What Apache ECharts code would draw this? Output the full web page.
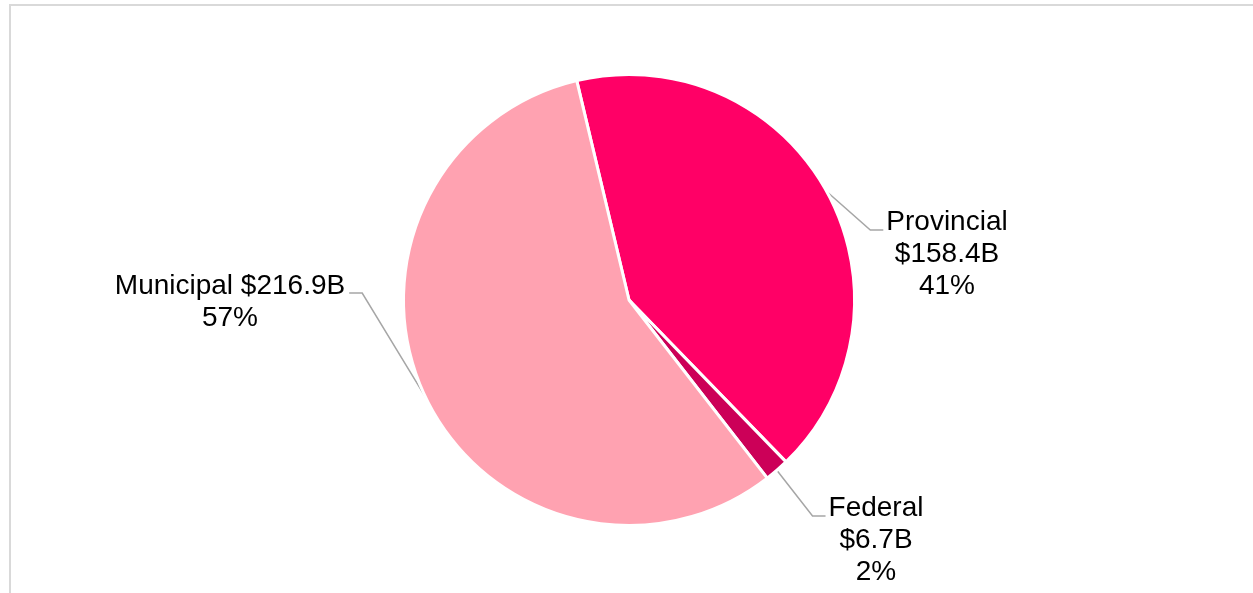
<!DOCTYPE html>
<html>
<head>
<meta charset="utf-8">
<script src="https://cdn.jsdelivr.net/npm/echarts@6/dist/echarts.min.js"></script>
<style>
  html, body { margin: 0; padding: 0; background: #ffffff; }
  #chart { width: 1253px; height: 593px; }
</style>
</head>
<body>
<div id="chart"></div>
<script>
// Spending by order of government (billions of dollars)
const categories = ['Provincial', 'Federal', 'Municipal'];
const values = [158.4, 6.7, 216.9];
const sliceColors = ['#FF0066', '#CC0058', '#FFA2B1'];

// Where each label block sits (centre x, centre y) and which side its leader joins
const labelSpots = [
  { x: 947, y: 254, side: 'left', lineY: 230, tail: 13 },
  { x: 876, y: 540, side: 'left', lineY: 516, tail: 13 },
  { x: 230, y: 302, side: 'right', lineY: 293, tail: 13 }
];

const total = values.reduce((a, b) => a + b, 0);

function labelText(i) {
  const pct = Math.round(values[i] / total * 100);
  const money = '$' + values[i].toFixed(1) + 'B';
  if (categories[i] === 'Municipal') {
    return categories[i] + ' ' + money + '\n' + pct + '%';
  }
  return categories[i] + '\n' + money + '\n' + pct + '%';
}

const chart = echarts.init(document.getElementById('chart'), null, { renderer: 'canvas' });

chart.setOption({
  animation: false,
  backgroundColor: '#ffffff',
  graphic: [{
    type: 'rect',
    shape: { x: 10, y: 5, width: 1400, height: 800 },
    style: { fill: 'none', stroke: '#D9D9D9', lineWidth: 2 },
    silent: true
  }],
  series: [{
    type: 'pie',
    center: [629, 300],
    radius: 225.5,
    startAngle: 103.4,
    clockwise: true,
    avoidLabelOverlap: false,
    itemStyle: { borderColor: '#ffffff', borderWidth: 3 },
    data: categories.map((name, i) => ({
      name: name,
      value: values[i],
      itemStyle: { color: sliceColors[i] }
    })),
    label: {
      show: true,
      formatter: p => labelText(p.dataIndex),
      fontFamily: '"Liberation Sans", Arial, sans-serif',
      fontSize: 28,
      lineHeight: 32,
      color: '#000000',
      align: 'center'
    },
    labelLine: {
      show: true,
      length: 20,
      length2: 13,
      lineStyle: { color: '#A6A6A6', width: 1.5 }
    },
    labelLayout: function (params) {
      const spot = labelSpots[params.dataIndex];
      const w = params.labelRect.width;
      const anchor = params.labelLinePoints ? params.labelLinePoints[0] : [spot.x, spot.y];
      const edgeX = spot.side === 'left' ? spot.x - w / 2 - 3 : spot.x + w / 2 + 4;
      const elbowX = spot.side === 'left' ? edgeX - spot.tail : edgeX + spot.tail;
      return {
        x: spot.x,
        y: spot.y,
        align: 'center',
        verticalAlign: 'middle',
        labelLinePoints: [
          [anchor[0], anchor[1]],
          [elbowX, spot.lineY],
          [edgeX, spot.lineY]
        ]
      };
    }
  }]
});
</script>
</body>
</html>
